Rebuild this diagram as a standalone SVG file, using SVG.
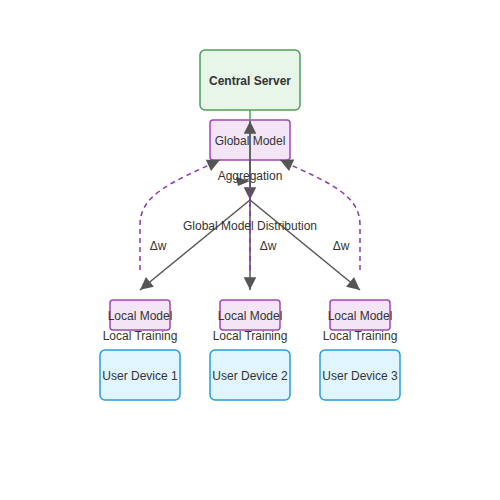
<svg xmlns="http://www.w3.org/2000/svg" width="500" height="500" viewBox="0 0 500 500">
<style>
text{font-family:"Liberation Sans",Arial,sans-serif;font-size:12px;fill:#333;text-anchor:middle}
.server{fill:#e8f5e9;stroke:#4f9f57;stroke-width:1.5}
.model{fill:#f3e5f5;stroke:#a445b9;stroke-width:1.5}
.device{fill:#e1f5fe;stroke:#2a9ddc;stroke-width:1.5}
.e{fill:none;stroke:#555;stroke-width:1.5}
.d{fill:none;stroke:#8e36b0;stroke-width:1.5;stroke-dasharray:5,4}
</style>
<defs>
<marker id="ah" viewBox="0 0 10 10" refX="10" refY="5" markerWidth="9" markerHeight="9" markerUnits="userSpaceOnUse" orient="auto" overflow="visible">
<path d="M0,0 L10,5 L0,10 z" fill="#555" transform="scale(1.4) translate(-3,-1.4)"/>
</marker>
</defs>
<rect width="500" height="500" fill="#fff"/>
<g id="server"><rect class="server" x="200" y="50" width="100" height="60" rx="5"/><text x="250" y="85" font-weight="bold">Central Server</text></g>
<g id="global"><rect class="model" x="210" y="120" width="80" height="40" rx="3"/><text x="250" y="145">Global Model</text></g>
<g id="lm1"><rect class="model" x="110" y="300" width="60" height="30" rx="3"/><text x="140" y="320">Local Model</text></g>
<g id="lm2"><rect class="model" x="220" y="300" width="60" height="30" rx="3"/><text x="250" y="320">Local Model</text></g>
<g id="lm3"><rect class="model" x="330" y="300" width="60" height="30" rx="3"/><text x="360" y="320">Local Model</text></g>
<g id="dev1"><rect class="device" x="100" y="350" width="80" height="50" rx="5"/><text x="140" y="380">User Device 1</text></g>
<g id="dev2"><rect class="device" x="210" y="350" width="80" height="50" rx="5"/><text x="250" y="380">User Device 2</text></g>
<g id="dev3"><rect class="device" x="320" y="350" width="80" height="50" rx="5"/><text x="360" y="380">User Device 3</text></g>
<g id="connectors">
<line x1="250" y1="110" x2="250" y2="160" stroke="#4f9f57" stroke-width="1.5"/>
<line class="e" x1="250" y1="200" x2="250" y2="121" marker-end="url(#ah)"/>
<line class="e" x1="250" y1="160" x2="250" y2="200" marker-end="url(#ah)"/>
<line class="e" x1="250" y1="200" x2="140" y2="290" marker-end="url(#ah)"/>
<line class="e" x1="250" y1="200" x2="250" y2="290" marker-end="url(#ah)"/>
<line class="e" x1="250" y1="200" x2="360" y2="290" marker-end="url(#ah)"/>
<path class="d" d="M140,270 V225 C140,195 170,183 220,160" marker-end="url(#ah)"/>
<path class="d" d="M360,270 V225 C360,195 330,183 280,160" marker-end="url(#ah)"/>
<path class="d" d="M250,270 V185" />
<path d="M236,177 L250,181 L238,186 z" fill="#555"/>
</g>
<g id="labels">
<text x="250" y="180">Aggregation</text>
<text x="250" y="230">Global Model Distribution</text>
<text x="158" y="250">Δw</text>
<text x="268" y="250">Δw</text>
<text x="341" y="250">Δw</text>
<text x="140" y="340">Local Training</text>
<text x="250" y="340">Local Training</text>
<text x="360" y="340">Local Training</text>
</g>
</svg>
